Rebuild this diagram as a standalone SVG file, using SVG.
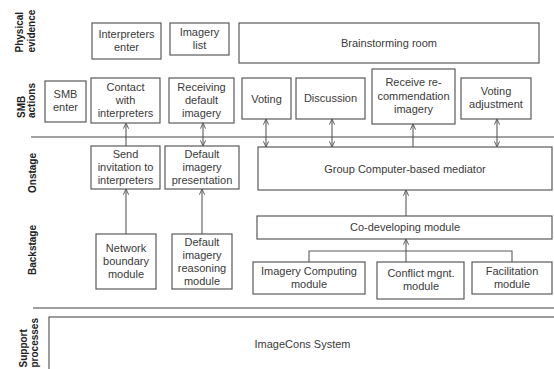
<svg xmlns="http://www.w3.org/2000/svg" width="554" height="369" viewBox="0 0 554 369">
<style>
.b{fill:#fff;stroke:#5a5a5a;stroke-width:1.2}
.t{font-family:"Liberation Sans",Arial,sans-serif;font-size:11px;fill:#3a3a3a;text-anchor:middle}
.lab{font-family:"Liberation Sans",Arial,sans-serif;font-size:10px;font-weight:bold;fill:#222}
.c{fill:none;stroke:#5a5a5a;stroke-width:1.1}
.sep{stroke:#444;stroke-width:1.1}
</style>
<defs>
<marker id="ah" viewBox="0 0 8 8" refX="7.5" refY="4" markerWidth="7" markerHeight="7" markerUnits="userSpaceOnUse" orient="auto-start-reverse">
<path d="M1,1 L7.5,4 L1,7" fill="none" stroke="#5a5a5a" stroke-width="1.1"/>
</marker>
</defs>
<rect width="554" height="369" fill="#fff"/>

<g id="lane-labels">
<text class="lab" transform="translate(22.5,52.5) rotate(-90)">Physical</text>
<text class="lab" transform="translate(34.5,52.5) rotate(-90)">evidence</text>
<text class="lab" transform="translate(25,118) rotate(-90)">SMB</text>
<text class="lab" transform="translate(34.5,118) rotate(-90)">actions</text>
<text class="lab" transform="translate(35.5,193) rotate(-90)">Onstage</text>
<text class="lab" transform="translate(35.5,275) rotate(-90)">Backstage</text>
<text class="lab" transform="translate(26.5,367.5) rotate(-90)">Support</text>
<text class="lab" transform="translate(38,367.5) rotate(-90)">processes</text>
</g>

<g id="separators">
<line class="sep" x1="31" y1="137" x2="554" y2="137"/>
<line class="sep" x1="33" y1="308" x2="554" y2="308"/>
</g>

<g id="interpreters-enter">
<rect class="b" x="92" y="23" width="69" height="36"/>
<text class="t" x="126.5" y="37.5">Interpreters</text>
<text class="t" x="126.5" y="50.5">enter</text>
</g>
<g id="imagery-list">
<rect class="b" x="170" y="23" width="59" height="32"/>
<text class="t" x="199.5" y="36">Imagery</text>
<text class="t" x="199.5" y="49">list</text>
</g>
<g id="brainstorming-room">
<rect class="b" x="239" y="23" width="300" height="40"/>
<text class="t" x="389" y="47">Brainstorming room</text>
</g>

<g id="smb-enter">
<rect class="b" x="45" y="81" width="41" height="41"/>
<text class="t" x="65.5" y="98">SMB</text>
<text class="t" x="65.5" y="111">enter</text>
</g>
<g id="contact">
<rect class="b" x="91" y="78" width="69" height="45"/>
<text class="t" x="125.5" y="91">Contact</text>
<text class="t" x="125.5" y="104">with</text>
<text class="t" x="125.5" y="117">interpreters</text>
</g>
<g id="receiving">
<rect class="b" x="169" y="78" width="65" height="45"/>
<text class="t" x="201.5" y="91">Receiving</text>
<text class="t" x="201.5" y="104">default</text>
<text class="t" x="201.5" y="117">imagery</text>
</g>
<g id="voting">
<rect class="b" x="242" y="78" width="49" height="41"/>
<text class="t" x="266.5" y="103">Voting</text>
</g>
<g id="discussion">
<rect class="b" x="296" y="78" width="69" height="41"/>
<text class="t" x="330.5" y="102">Discussion</text>
</g>
<g id="receive-recommendation">
<rect class="b" x="372" y="69" width="83" height="55"/>
<text class="t" x="413.5" y="86">Receive re-</text>
<text class="t" x="413.5" y="99.5">commendation</text>
<text class="t" x="413.5" y="112.5">imagery</text>
</g>
<g id="voting-adjustment">
<rect class="b" x="461" y="78" width="70" height="41"/>
<text class="t" x="496" y="95">Voting</text>
<text class="t" x="496" y="108">adjustment</text>
</g>

<g id="send-invitation">
<rect class="b" x="91" y="146" width="69" height="43"/>
<text class="t" x="125.5" y="158">Send</text>
<text class="t" x="125.5" y="171">invitation to</text>
<text class="t" x="125.5" y="184">interpreters</text>
</g>
<g id="default-presentation">
<rect class="b" x="165" y="146" width="74" height="43"/>
<text class="t" x="202" y="158">Default</text>
<text class="t" x="202" y="171">imagery</text>
<text class="t" x="202" y="184">presentation</text>
</g>
<g id="group-mediator">
<rect class="b" x="258" y="147" width="294" height="43"/>
<text class="t" x="405" y="172.5">Group Computer-based mediator</text>
</g>
<g id="co-developing">
<rect class="b" x="257" y="216" width="295" height="23"/>
<text class="t" x="405" y="231">Co-developing module</text>
</g>

<g id="network-boundary">
<rect class="b" x="96" y="234" width="60" height="55"/>
<text class="t" x="126" y="252">Network</text>
<text class="t" x="126" y="265">boundary</text>
<text class="t" x="126" y="278">module</text>
</g>
<g id="default-reasoning">
<rect class="b" x="172" y="234" width="60" height="55"/>
<text class="t" x="202" y="245.5">Default</text>
<text class="t" x="202" y="258.5">imagery</text>
<text class="t" x="202" y="271.5">reasoning</text>
<text class="t" x="202" y="284.5">module</text>
</g>
<g id="imagery-computing">
<rect class="b" x="253" y="262" width="112" height="32"/>
<text class="t" x="309" y="274.5">Imagery Computing</text>
<text class="t" x="309" y="287.5">module</text>
</g>
<g id="conflict">
<rect class="b" x="377" y="262" width="87" height="37"/>
<text class="t" x="421" y="277">Conflict mgnt.</text>
<text class="t" x="421" y="290">module</text>
</g>
<g id="facilitation">
<rect class="b" x="472" y="262" width="80" height="32"/>
<text class="t" x="512" y="274.5">Facilitation</text>
<text class="t" x="512" y="287.5">module</text>
</g>

<g id="imagecons-system">
<rect class="b" x="49" y="317" width="520" height="80"/>
<text class="t" x="302.5" y="348">ImageCons System</text>
</g>

<g id="connectors">
<line class="c" x1="126" y1="146" x2="126" y2="123" marker-end="url(#ah)"/>
<line class="c" x1="203" y1="123" x2="203" y2="146" marker-start="url(#ah)" marker-end="url(#ah)"/>
<line class="c" x1="266" y1="119" x2="266" y2="147" marker-start="url(#ah)" marker-end="url(#ah)"/>
<line class="c" x1="332" y1="119" x2="332" y2="147" marker-start="url(#ah)" marker-end="url(#ah)"/>
<line class="c" x1="413" y1="147" x2="413" y2="124" marker-end="url(#ah)"/>
<line class="c" x1="497" y1="119" x2="497" y2="147" marker-start="url(#ah)" marker-end="url(#ah)"/>
<line class="c" x1="126" y1="234" x2="126" y2="189" marker-end="url(#ah)"/>
<line class="c" x1="202" y1="234" x2="202" y2="189" marker-end="url(#ah)"/>
<line class="c" x1="406" y1="216" x2="406" y2="190" marker-end="url(#ah)"/>
<line class="c" x1="406" y1="262" x2="406" y2="239" marker-end="url(#ah)"/>
<polyline class="c" points="309,262 309,251 512,251 512,262"/>
</g>
</svg>
